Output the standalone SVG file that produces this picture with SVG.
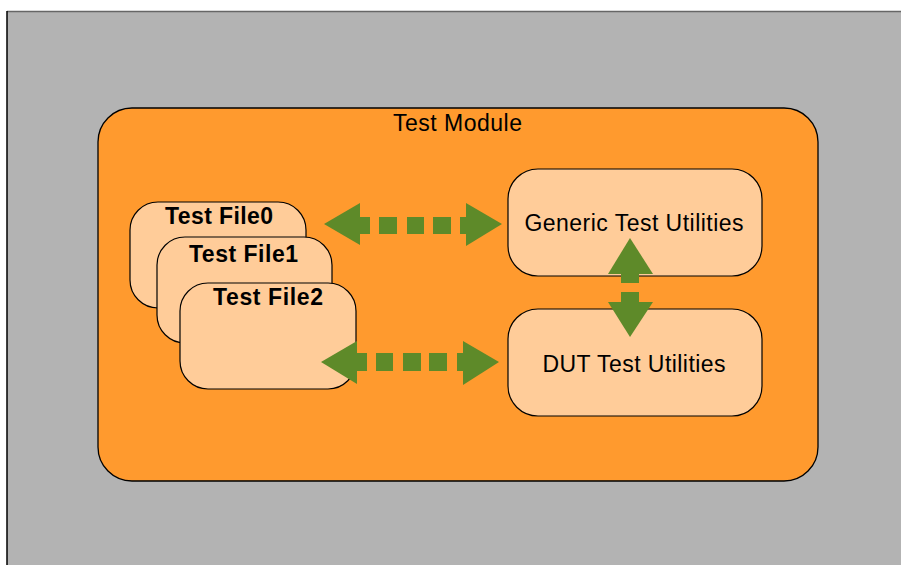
<svg xmlns="http://www.w3.org/2000/svg" width="901" height="565" viewBox="0 0 901 565">
<style>
.box{fill:#ffcc99;stroke:#000;stroke-width:1.2}
.mod{fill:#ff9a2e;stroke:#000;stroke-width:1.3}
.arr{fill:#5e8a29}
.t{font-family:"Liberation Sans",Arial,sans-serif;font-size:23px;fill:#000}
.b{font-weight:bold;font-size:23px}
</style>
<rect x="0" y="0" width="901" height="565" fill="#ffffff"/>
<rect x="7" y="11" width="894" height="554" fill="#b3b3b3"/>
<line x1="7" y1="11.5" x2="901" y2="11.5" stroke="#666" stroke-width="1.5"/>
<line x1="7" y1="11" x2="7" y2="565" stroke="#000" stroke-width="1.5"/>
<g id="test-module">
<rect class="mod" x="98" y="108" width="720" height="373" rx="34" ry="34"/>
<text class="t" x="457.5" y="131" text-anchor="middle" textLength="129">Test Module</text>
</g>
<g id="test-file0">
<rect class="box" x="130" y="202" width="176" height="106" rx="28" ry="28"/>
<text class="t b" x="165" y="224" textLength="108">Test File0</text>
</g>
<g id="test-file1">
<rect class="box" x="157" y="237" width="175" height="106" rx="28" ry="28"/>
<text class="t b" x="189" y="262" textLength="109">Test File1</text>
</g>
<g id="test-file2">
<rect class="box" x="180" y="283" width="176" height="106" rx="28" ry="28"/>
<text class="t b" x="213" y="305" textLength="110">Test File2</text>
</g>
<g id="generic-test-utilities">
<rect class="box" x="508" y="169" width="254" height="107" rx="30" ry="30"/>
<text class="t" x="634" y="231" text-anchor="middle" textLength="219">Generic Test Utilities</text>
</g>
<g id="dut-test-utilities">
<rect class="box" x="508" y="309" width="254" height="107" rx="30" ry="30"/>
<text class="t" x="634" y="372" text-anchor="middle" textLength="183">DUT Test Utilities</text>
</g>
<g id="connectors">
<g class="arr">
<polygon points="324,224 360,203 360,245"/>
<rect x="359" y="217" width="11" height="17"/>
<rect x="379" y="217" width="18" height="17"/>
<rect x="407" y="217" width="17" height="17"/>
<rect x="433" y="217" width="18" height="17"/>
<rect x="460" y="217" width="7" height="17"/>
<polygon points="502,224 466,203 466,246"/>
</g>
<g class="arr">
<polygon points="321,362 357,341 357,384"/>
<rect x="356" y="353" width="11" height="18"/>
<rect x="376" y="353" width="17" height="18"/>
<rect x="403" y="353" width="18" height="18"/>
<rect x="429" y="353" width="18" height="18"/>
<rect x="457" y="353" width="7" height="18"/>
<polygon points="499,362 463,341 463,385"/>
</g>
<g class="arr">
<polygon points="630,238 608,274 653,274"/>
<rect x="621" y="273" width="18" height="10"/>
<rect x="621" y="292" width="18" height="11"/>
<polygon points="630,337 608,302 653,302"/>
</g>
</g>
</svg>
